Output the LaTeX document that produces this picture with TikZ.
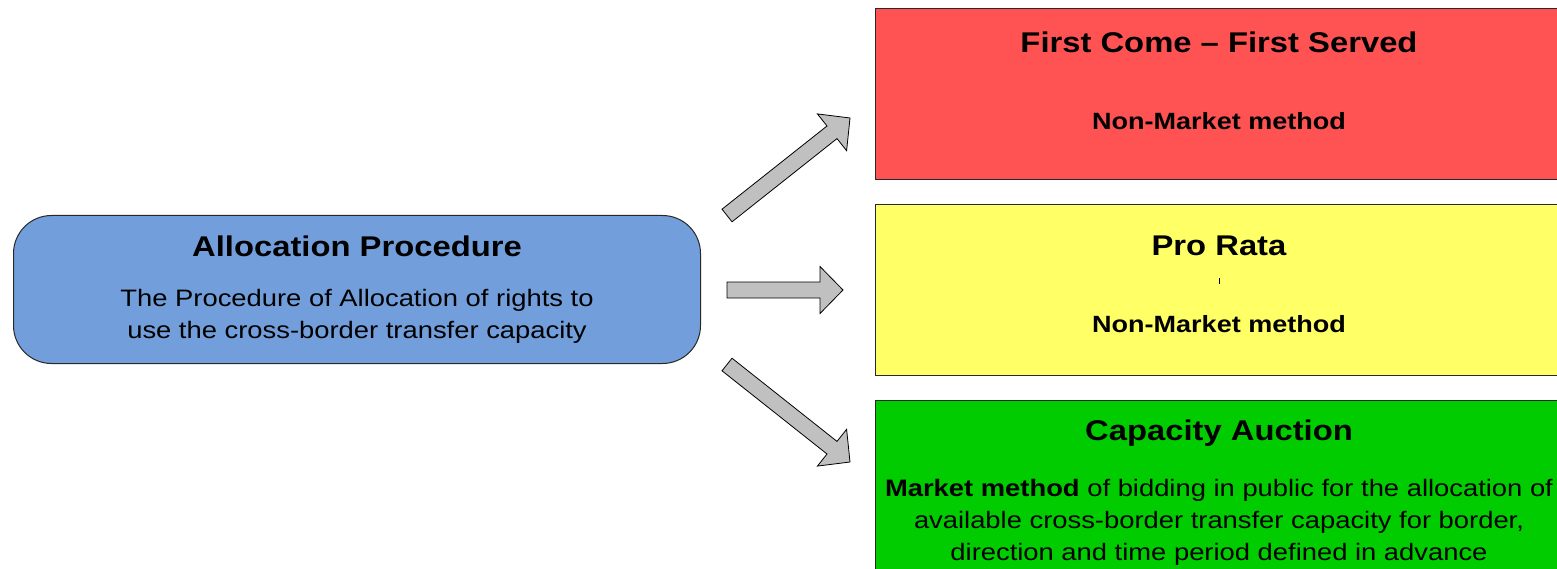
\documentclass[tikz,border=0pt]{standalone}
\usepackage{fontspec}
\newfontfamily\af[FakeStretch=1.15]{Liberation Sans}
\definecolor{boxred}{RGB}{255,82,82}
\definecolor{boxyellow}{RGB}{255,255,102}
\definecolor{boxgreen}{RGB}{0,204,0}
\definecolor{boxblue}{RGB}{114,159,219}
\definecolor{arrowgray}{RGB}{192,192,192}
\definecolor{edgegray}{RGB}{40,40,40}
\tikzset{
  panel/.style={draw=edgegray, line width=1pt, anchor=north west, inner sep=0pt,
    minimum width=688pt},
  titletext/.style={anchor=base, inner sep=0pt, font=\af\bfseries\fontsize{28.5}{32}\selectfont},
  subtext/.style={anchor=base, inner sep=0pt, font=\af\bfseries\fontsize{23.5}{32}\selectfont},
  bodytext/.style={anchor=base, inner sep=0pt, font=\af\fontsize{23.8}{32}\selectfont},
  blockarrow/.style={draw=black, fill=arrowgray, line width=0.8pt, line join=miter},
}
\begin{document}
\begin{tikzpicture}[x=1pt,y=-1pt]
\useasboundingbox (0,0) rectangle (1557,569);
\clip (0,0) rectangle (1557,569);
% boxes
\node[panel, fill=boxblue, rounded corners=38pt, minimum width=687pt, minimum height=148pt] (alloc) at (13,215) {};
\node[panel, fill=boxred, minimum height=171pt] (fcfs) at (875,8) {};
\node[panel, fill=boxyellow, minimum height=171pt] (prorata) at (875,204) {};
\node[panel, fill=boxgreen, minimum height=185pt] (auction) at (875,400) {};
% texts
\node[titletext] (allocT) at (357,257) {Allocation Procedure};
\node[bodytext] (allocB1) at (357,306) {The Procedure of Allocation of rights to};
\node[bodytext] (allocB2) at (357,338) {use the cross-border transfer capacity};
\node[titletext] (fcfsT) at (1219,53) {First Come – First Served};
\node[subtext] (fcfsS) at (1219,130) {Non-Market method};
\node[titletext] (prT) at (1219,256) {Pro Rata};
\node[subtext] (prS) at (1219,332) {Non-Market method};
\node[titletext] (auT) at (1219,440) {Capacity Auction};
\node[bodytext] (auB1) at (1219,496) {\bfseries Market method\mdseries{} of bidding in public for the allocation of};
\node[bodytext] (auB2) at (1219,528) {available cross-border transfer capacity for border,};
\node[bodytext] (auB3) at (1219,560) {direction and time period defined in advance};
\draw[line width=1pt] (1219,278) -- (1219,284);
% block arrows
\draw[blockarrow] (722,209.2) -- (827,126) -- (817.4,113.9) -- (850,118) -- (846.6,150.7) -- (837,138.6) -- (732,221.8) -- cycle;
\draw[blockarrow] (727,282) -- (820,282) -- (820,266.5) -- (843,290) -- (820,313.5) -- (820,298) -- (727,298) -- cycle;
\draw[blockarrow] (722,370.8) -- (827,454) -- (817.4,466.1) -- (850,462) -- (846.6,429.3) -- (837,441.4) -- (732,358.2) -- cycle;
\end{tikzpicture}
\end{document}
